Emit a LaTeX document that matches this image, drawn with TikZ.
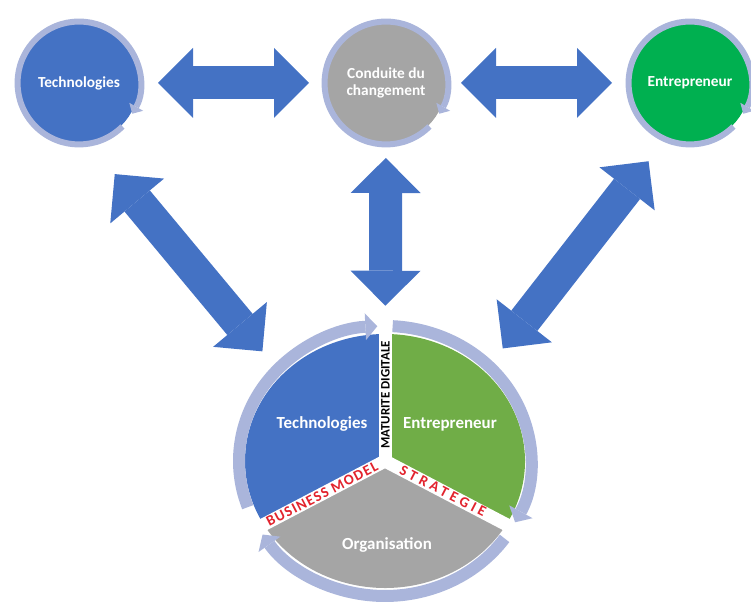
\documentclass[tikz,border=0pt]{standalone}
\usepackage{fontspec}
\setmainfont{Carlito}
\usepackage{tikz}
\usetikzlibrary{arrows.meta, calc}
\definecolor{techblue}{RGB}{68,114,196}
\definecolor{softgray}{RGB}{165,165,165}
\definecolor{brightgreen}{RGB}{0,176,80}
\definecolor{leafgreen}{RGB}{112,173,71}
\definecolor{ringlilac}{RGB}{170,181,219}
\definecolor{labelred}{RGB}{226,35,45}
\begin{document}
\begin{tikzpicture}[x=0.75pt, y=0.75pt,
    disc/.style={circle, minimum size=90pt, inner sep=0pt, outer sep=3pt,
                 text=white, align=center, font=\bfseries\fontsize{11.5}{13}\selectfont},
    smallring/.style={draw=ringlilac, line width=4.5pt,
                      -{Triangle[length=6pt, width=12pt, line width'=0pt]}},
    bigring/.style={draw=ringlilac, line width=9pt,
                    -{Triangle[length=9pt, width=20pt, line width'=0pt]}},
    blockarr/.style={draw=techblue, line width=24.75pt,
                     {Triangle[length=26.25pt, width=52.5pt, line width'=0pt]}-{Triangle[length=26.25pt, width=52.5pt, line width'=0pt]}},
    partlabel/.style={text=white, font=\bfseries\fontsize{12.7}{15}\selectfont},
    gapline/.style={draw=white, line width=9.75pt},
    seamlabel/.style={text=labelred, inner sep=0pt, font=\bfseries\fontsize{11}{12}\selectfont}
  ]
    \useasboundingbox (0,0) rectangle (751,606);

    \node[disc, fill=techblue] (tech) at (79,523) {Technologies};
    \node[disc, fill=softgray] (conduite) at (386,523) {Conduite du\\changement};
    \node[disc, fill=brightgreen] (entre) at (690,523) {Entrepreneur};
    \foreach \n in {tech, conduite, entre}
      \draw[smallring] (\n.center) ++(315:46.1pt) arc[start angle=315, end angle=-30, radius=46.1pt];

    \coordinate (mcenter) at (385,145);
    \node[circle, minimum size=225pt, inner sep=0pt] (maturite) at (mcenter) {};

    \fill[techblue] (mcenter) -- ++(90:105pt and 95.25pt)
      arc[start angle=90, end angle=210, x radius=105pt, y radius=95.25pt] -- cycle;
    \fill[leafgreen] (mcenter) -- ++(-30:105pt and 95.25pt)
      arc[start angle=-30, end angle=90, x radius=105pt, y radius=95.25pt] -- cycle;
    \fill[softgray] (mcenter) -- ++(210:105pt and 95.25pt)
      arc[start angle=210, end angle=330, x radius=105pt, y radius=95.25pt] -- cycle;
    \foreach \a in {90,210,330}
      \draw[gapline] (mcenter) -- ++(\a:108pt and 98pt);

    \draw[bigring] (mcenter) ++(200:109.5pt and 101.25pt)
      arc[start angle=200, end angle=93, x radius=109.5pt, y radius=101.25pt];
    \draw[bigring] (mcenter) ++(87:109.5pt and 101.25pt)
      arc[start angle=87, end angle=-27, x radius=109.5pt, y radius=101.25pt];
    \draw[bigring] (mcenter) ++(-35:109.5pt and 101.25pt)
      arc[start angle=-35, end angle=-147, x radius=109.5pt, y radius=101.25pt];

    \node[partlabel] (bigtech) at (322,182) {Technologies};
    \node[partlabel] (bigentre) at (450,182) {Entrepreneur};
    \node[partlabel] (organisation) at (387,61) {Organisation};
    \node[rotate=90, inner sep=0pt, font=\bfseries\fontsize{9.7}{11}\selectfont] (digitale)
      at (385.5,211) {MATURITE DIGITALE};
    \node[seamlabel, rotate=27.4] (business) at (322,112)
      {\addfontfeature{LetterSpace=9}BUSINESS MODEL};
    \node[seamlabel, rotate=-27.4] (strategie) at (443,115)
      {\addfontfeature{LetterSpace=26}STRATEGIE};

    \draw[blockarr, shorten <=11.25pt, shorten >=9.75pt] (tech) -- (conduite);
    \draw[blockarr, shorten <=8.25pt, shorten >=10.5pt] (conduite) -- (entre);
    \draw[blockarr, shorten <=8.25pt, shorten >=3.75pt] (conduite) -- (maturite);
    \draw[blockarr, shorten <=27.6pt, shorten >=10.8pt] (tech.-79) -- (maturite.139);
    \draw[blockarr, shorten <=18.8pt, shorten >=9.6pt] (entre.-114) -- (maturite.43);
  \end{tikzpicture}
\end{document}
